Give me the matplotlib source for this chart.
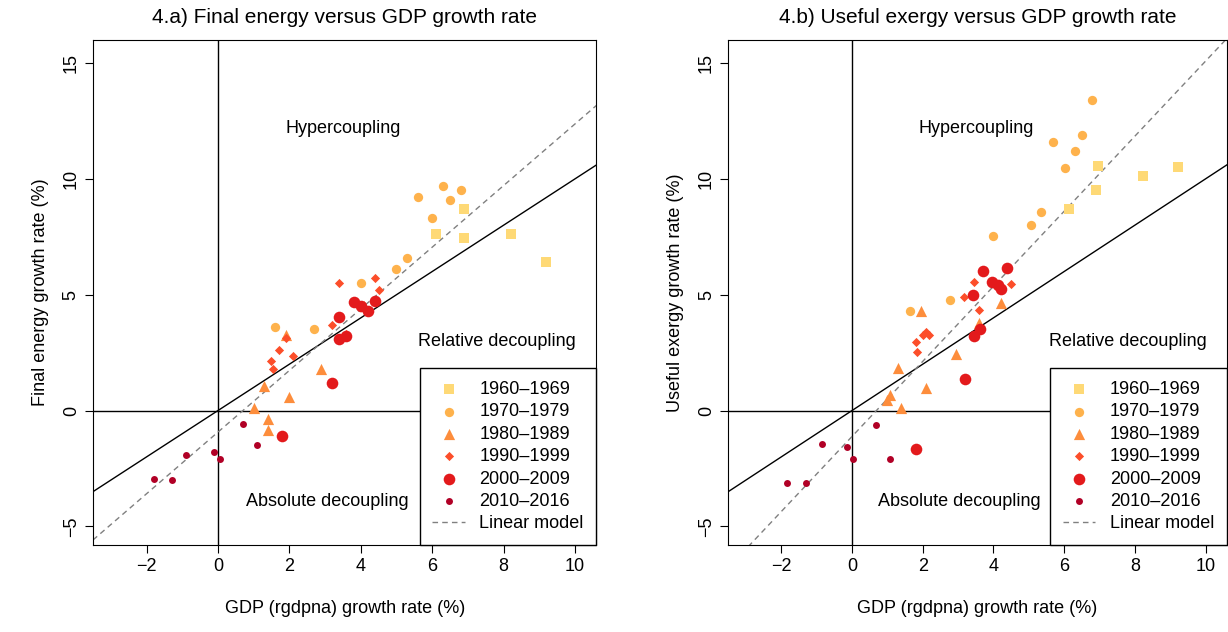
import numpy as np
import matplotlib.pyplot as plt

plt.rcParams['font.family'] = ['Liberation Sans', 'DejaVu Sans']

decades = ['1960\u20131969', '1970\u20131979', '1980\u20131989', '1990\u20131999', '2000\u20132009', '2010\u20132016']
colors = ['#FED976', '#FEB24C', '#FD8D3C', '#FC4E2A', '#E31A1C', '#B10026']
markers = ['s', 'o', '^', 'D', 'o', 'o']
sizes = [45, 45, 65, 22, 70, 25]

# GDP growth rate per decade (shared by both panels)
gdp_a = [
    [6.1, 6.9, 6.9, 8.2, 9.2],
    [5.6, 6.0, 6.3, 6.5, 6.8, 5.3, 5.0, 4.0, 2.7, 1.6],
    [1.9, 1.3, 1.0, 2.0, 1.4, 1.4, 2.9, 4.1],
    [3.4, 4.4, 4.5, 3.2, 3.6, 1.9, 1.5, 1.55, 1.7, 2.1],
    [3.4, 3.8, 4.0, 4.2, 4.4, 3.4, 3.6, 3.2, 1.8],
    [0.7, 1.1, -0.9, -0.1, 0.05, -1.8, -1.3],
]
energy = [
    [7.6, 8.7, 7.45, 7.6, 6.4],
    [9.2, 8.3, 9.7, 9.1, 9.5, 6.6, 6.1, 5.5, 3.5, 3.6],
    [3.25, 1.05, 0.1, 0.6, -0.35, -0.85, 1.8, 4.5],
    [5.5, 5.7, 5.2, 3.7, 3.3, 3.15, 2.15, 1.8, 2.6, 2.35],
    [4.05, 4.7, 4.5, 4.3, 4.75, 3.1, 3.2, 1.2, -1.1],
    [-0.6, -1.5, -1.9, -1.8, -2.1, -2.95, -3.0],
]
gdp_b = [
    [6.97, 6.91, 6.15, 8.23, 9.23],
    [6.8, 5.68, 6.5, 6.3, 6.03, 5.34, 5.06, 4.0, 2.76, 1.64],
    [1.96, 4.21, 3.6, 2.93, 1.29, 2.09, 1.08, 1.0, 1.39],
    [3.45, 3.18, 4.51, 3.6, 2.1, 2.19, 2.0, 1.8, 1.83],
    [3.72, 4.38, 3.97, 4.12, 4.21, 3.41, 3.63, 3.45, 3.2, 1.82],
    [0.69, -0.15, -0.85, 0.04, 1.07, -1.85, -1.29],
]
exergy = [
    [10.57, 9.53, 8.68, 10.14, 10.53],
    [13.4, 11.57, 11.9, 11.2, 10.47, 8.55, 8.0, 7.54, 4.79, 4.29],
    [4.29, 4.63, 3.76, 2.44, 1.85, 0.98, 0.67, 0.45, 0.09],
    [5.54, 4.91, 5.47, 4.32, 3.37, 3.27, 3.24, 2.95, 2.54],
    [6.01, 6.14, 5.57, 5.43, 5.24, 4.97, 3.53, 3.21, 1.36, -1.64],
    [-0.63, -1.58, -1.45, -2.08, -2.08, -3.14, -3.12],
]
fit_a = (1.33, -0.93)
fit_b = (1.62, -1.12)

fig = plt.figure(figsize=(12.28, 6.32), dpi=100)
ax1 = fig.add_axes([0.0757, 0.1377, 0.41, 0.7993])
ax2 = fig.add_axes([0.593, 0.1377, 0.406, 0.7993])

def panel(ax, xs, ys, fit, title, ylabel):
    xl = np.array([-3.5, 10.6])
    ax.axhline(0, color='black', lw=1)
    ax.axvline(0, color='black', lw=1)
    ax.plot(xl, xl, color='black', lw=1)
    ax.plot(xl, fit[0] * xl + fit[1], color='gray', lw=1, ls=(0, (4, 3)))
    for i in range(6):
        ax.scatter(xs[i], ys[i], s=sizes[i], c=colors[i], marker=markers[i],
                   linewidths=0, label=decades[i], zorder=3)
    ax.plot([], [], color='gray', lw=1, ls=(0, (4, 3)), label='Linear model')
    ax.set_xlim(-3.5, 10.6)
    ax.set_ylim(-5.8, 16)
    ax.set_xticks([-2, 0, 2, 4, 6, 8, 10])
    ax.set_yticks([-5, 0, 5, 10, 15])
    ax.set_xticklabels(['\u22122', '0', '2', '4', '6', '8', '10'])
    ax.set_yticklabels(['\u22125', '0', '5', '10', '15'], rotation=90, va='center')
    ax.tick_params(labelsize=13, length=6, direction='out')
    ax.set_title(title, fontsize=15, pad=12)
    ax.set_xlabel('GDP (rgdpna) growth rate (%)', fontsize=13, labelpad=18)
    ax.set_ylabel(ylabel, fontsize=13, labelpad=10)
    ax.text(3.5, 12, 'Hypercoupling', fontsize=13, ha='center')
    ax.text(7.8, 2.8, 'Relative decoupling', fontsize=13, ha='center')
    ax.text(3.05, -4.1, 'Absolute decoupling', fontsize=13, ha='center')
    leg = ax.legend(loc='lower right', fontsize=13, fancybox=False, framealpha=1,
                    edgecolor='black', borderaxespad=0, handlelength=1.8,
                    labelspacing=0.3, borderpad=0.7, handletextpad=0.8)
    leg.get_frame().set_linewidth(1)

panel(ax1, gdp_a, energy, fit_a, '4.a) Final energy versus GDP growth rate',
      'Final energy growth rate (%)')
panel(ax2, gdp_b, exergy, fit_b, '4.b) Useful exergy versus GDP growth rate',
      'Useful exergy growth rate (%)')

fig.savefig('out.png', dpi=100)
